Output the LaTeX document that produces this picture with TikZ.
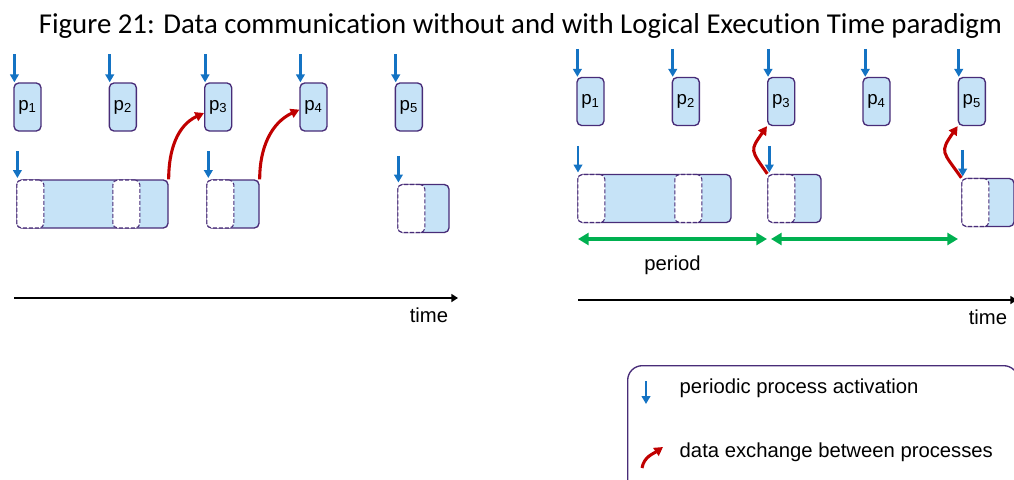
\documentclass[tikz,border=0pt]{standalone}
\usepackage{fontspec}
\setmainfont{Liberation Sans}
\newfontfamily\captionfont[Ligatures=NoCommon]{Carlito}
\usetikzlibrary{arrows,arrows.meta,positioning}

\definecolor{procfill}{RGB}{198,227,247}
\definecolor{procline}{RGB}{72,44,120}
\definecolor{actblue}{RGB}{20,115,195}
\definecolor{xchred}{RGB}{192,0,0}
\definecolor{pergreen}{RGB}{0,176,80}

\begin{document}
\begin{tikzpicture}[x=0.75pt,y=-0.75pt,>=stealth',node distance=71.5pt,
    procnode/.style={rectangle, rounded corners=3.5pt, draw=procline, fill=procfill, line width=1pt,
                     minimum width=20.25pt, minimum height=36pt, inner sep=0pt, font=\fontsize{14}{16}\selectfont},
    jobnode/.style={rectangle, rounded corners=3.5pt, draw=procline, fill=procfill, line width=1pt,
                    minimum height=36pt, inner sep=0pt},
    slotnode/.style={rectangle, rounded corners=3.5pt, draw=procline, fill=white, line width=0.8pt,
                     dash pattern=on 3pt off 1.5pt, minimum width=20.25pt, minimum height=36pt, inner sep=0pt},
    act/.style={-{Triangle[length=6pt,width=6.5pt]}, draw=actblue, line width=2.2pt},
    xchg/.style={-{Triangle[length=6.5pt,width=7pt]}, draw=xchred, line width=2.3pt},
    per/.style={{Triangle[length=8pt,width=9pt]}-{Triangle[length=8pt,width=9pt]}, draw=pergreen, line width=2.3pt},
    axis/.style={-{Triangle[length=5pt,width=6pt]}, line width=2.2pt},
    lbl/.style={font=\fontsize{15.2}{18}\selectfont}]
  \useasboundingbox (0,0) rectangle (1014,479);

  \node[anchor=base, font=\captionfont\fontsize{21.6}{26}\selectfont] (title) at (520.5,33)
    {Figure 21: Data communication without and with Logical Execution Time paradigm};

  % without LET
  \node[procnode] (lp1) at (27.5,107) {p\textsubscript{1}};
  \node[procnode] (lp2) [right of=lp1] {p\textsubscript{2}};
  \node[procnode] (lp3) [right of=lp2] {p\textsubscript{3}};
  \node[procnode] (lp4) [right of=lp3] {p\textsubscript{4}};
  \node[procnode] (lp5) [right of=lp4] {p\textsubscript{5}};

  \node[jobnode, minimum width=113.25pt] (lj1) at (92.5,204) {};
  \node[slotnode, anchor=west] (lj1a) at (lj1.west) {};
  \node[slotnode, anchor=west] (lj1b) at ([xshift=72pt]lj1.west) {};
  \node[jobnode, minimum width=39pt] (lj2) at (233,204) {};
  \node[slotnode, anchor=west] (lj2a) at (lj2.west) {};
  \node[jobnode, minimum width=38.25pt] (lj3) at (423.5,208.5) {};
  \node[slotnode, anchor=west] (lj3a) at (lj3.west) {};

  \draw[act] ([xshift=0.8pt,yshift=21pt]lp1.north west) -- ([xshift=0.8pt]lp1.north west);
  \draw[act] ([xshift=0.8pt,yshift=21pt]lp2.north west) -- ([xshift=0.8pt]lp2.north west);
  \draw[act] ([xshift=0.8pt,yshift=21pt]lp3.north west) -- ([xshift=0.8pt]lp3.north west);
  \draw[act] ([xshift=0.8pt,yshift=21pt]lp4.north west) -- ([xshift=0.8pt]lp4.north west);
  \draw[act] ([xshift=0.8pt,yshift=21pt]lp5.north west) -- ([xshift=0.8pt]lp5.north west);
  \draw[act] ([xshift=0.8pt,yshift=21pt]lj1.north west) -- ([xshift=0.8pt,yshift=1pt]lj1.north west);
  \draw[act] ([xshift=1.5pt,yshift=21pt]lj2.north west) -- ([xshift=1.5pt,yshift=1pt]lj2.north west);
  \draw[act] ([xshift=0.8pt,yshift=21pt]lj3.north west) -- ([xshift=0.8pt,yshift=1pt]lj3.north west);

  \path (lj1.north east) edge[xchg, out=90, in=205] ([yshift=-4.5pt]lp3.west)
        (lj2.north east) edge[xchg, out=90, in=205] ([yshift=-2pt]lp4.west);

  \draw[axis] (14,298) -- (458,298) node[lbl, below left=3pt and 3pt] (ltime) {time};

  % with LET
  \node[procnode] (rp1) at (590.5,101.5) {p\textsubscript{1}};
  \node[procnode] (rp2) [right of=rp1] {p\textsubscript{2}};
  \node[procnode] (rp3) [right of=rp2] {p\textsubscript{3}};
  \node[procnode] (rp4) [right of=rp3] {p\textsubscript{4}};
  \node[procnode] (rp5) [right of=rp4] {p\textsubscript{5}};

  \node[jobnode, minimum width=114.75pt] (rj1) at (654.5,198.5) {};
  \node[slotnode, anchor=west] (rj1a) at (rj1.west) {};
  \node[slotnode, anchor=west] (rj1b) at ([xshift=72.75pt]rj1.west) {};
  \node[jobnode, minimum width=39.75pt] (rj2) at (794.5,198.5) {};
  \node[slotnode, anchor=west] (rj2a) at (rj2.west) {};
  \node[jobnode, minimum width=39pt] (rj3) at (988,202.5) {};
  \node[slotnode, anchor=west] (rj3a) at (rj3.west) {};

  \draw[act] ([xshift=0.8pt,yshift=21pt]rp1.north west) -- ([xshift=0.8pt]rp1.north west);
  \draw[act] ([xshift=0.8pt,yshift=21pt]rp2.north west) -- ([xshift=0.8pt]rp2.north west);
  \draw[act] ([xshift=0.8pt,yshift=21pt]rp3.north west) -- ([xshift=0.8pt]rp3.north west);
  \draw[act] ([xshift=2.2pt,yshift=21pt]rp4.north west) -- ([xshift=2.2pt]rp4.north west);
  \draw[act] ([xshift=0.8pt,yshift=21pt]rp5.north west) -- ([xshift=0.8pt]rp5.north west);
  \draw[act] ([xshift=0.5pt,yshift=21pt]rj1.north west) -- ([xshift=0.5pt,yshift=1pt]rj1.north west);
  \draw[act] ([xshift=1.5pt,yshift=21pt]rj2.north west) -- ([xshift=1.5pt,yshift=1pt]rj2.north west);
  \draw[act] ([xshift=1pt,yshift=21pt]rj3.north west) -- ([xshift=1pt,yshift=1pt]rj3.north west);

  \path (rj2.north west) edge[xchg, out=125, in=235, looseness=1.6] (rp3.south west)
        (rj3.north west) edge[xchg, out=125, in=235, looseness=1.6] (rp5.south west);

  \coordinate (t0) at (578,239);
  \coordinate (t1) at (767,239);
  \coordinate (t2) at (771,239);
  \coordinate (t3) at (958,239);
  \draw[per] (t0) -- (t1) node[lbl, midway, below=8pt] (period) {period};
  \draw[per] (t2) -- (t3);

  \draw[axis] (578,300) -- (1017,300) node[lbl, below left=3pt and 3pt] (rtime) {time};

  % legend
  \node[draw=procline, line width=1pt, rounded corners=11pt, minimum width=293pt, minimum height=100pt,
        anchor=north west] (legend) at (627,365) {};
  \draw[act] (646,381) -- (646,404);
  \draw[xchg] (642,468) to[out=80, in=215] (663,447);
  \node[lbl, anchor=west] (legact) at (675,388) {periodic process activation};
  \node[lbl, anchor=west] (legxch) at (675,452) {data exchange between processes};
\end{tikzpicture}
\end{document}
